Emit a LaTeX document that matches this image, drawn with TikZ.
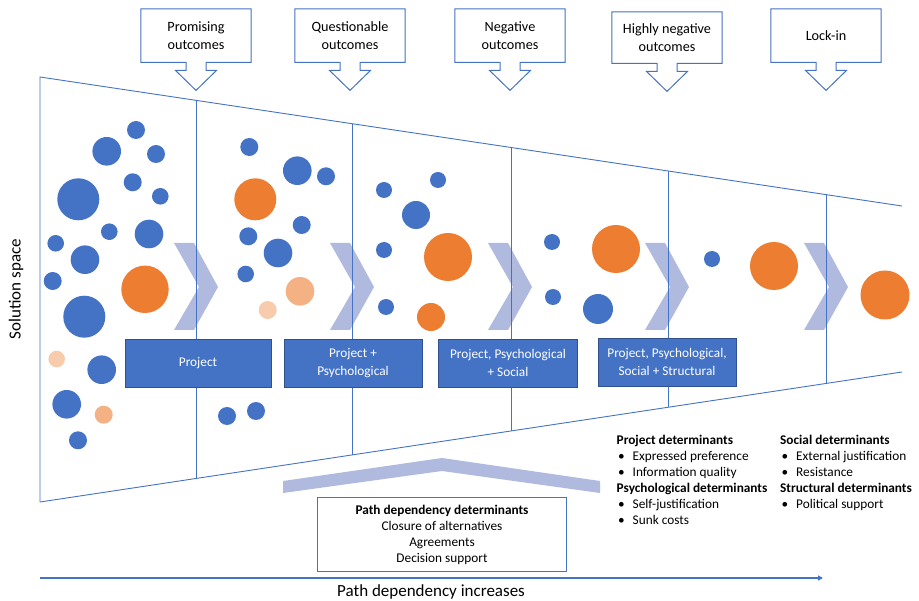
\documentclass[tikz,border=0pt]{standalone}
\usepackage{fontspec}
\setmainfont{Carlito}
\usetikzlibrary{calc,arrows.meta}
\definecolor{obl}{HTML}{4472C4}
\definecolor{obldark}{HTML}{2F528F}
\definecolor{oor}{HTML}{ED7D31}
\definecolor{opeach}{HTML}{F4B183}
\definecolor{opale}{HTML}{F8CBAD}
\definecolor{ochev}{HTML}{AFBADE}
\newcommand{\bitem}[1]{\makebox[16pt][l]{\hspace{1.5pt}\textbullet}#1}
\newcommand{\outcome}[1]{\draw[calline] (#1.south west) -- (#1.north west) -- (#1.north east) -- (#1.south east) -- ($(#1.south)+(10,0)$) -- ++(0,8) -- ++(10.5,0) -- ++(-20.5,20) -- ++(-20.5,-20) -- ++(10.5,0) -- ++(0,-8) -- cycle;}
\begin{document}
\begin{tikzpicture}[x=1pt,y=-1pt,
  funnel/.style={draw=obl, line width=0.9pt},
  calline/.style={draw=obl, line width=1pt},
  outbox/.style={minimum width=110pt, minimum height=53pt, align=center, inner sep=0pt, font=\fontsize{14.2}{17.7}\selectfont},
  detbox/.style={fill=obl, draw=obldark, line width=0.8pt, text=white, minimum height=48pt, align=center, inner sep=0pt, font=\fontsize{13.3}{17.5}\selectfont},
  notes/.style={anchor=north west, align=left, inner sep=0pt, font=\fontsize{13.3}{15.9}\selectfont},
  chev/.style={fill=ochev},
  bdot/.style={fill=obl}, odot/.style={fill=oor}, pdot/.style={fill=opeach}, ldot/.style={fill=opale}]
\useasboundingbox (0,0) rectangle (919,601);
% funnel
\coordinate (ftl) at (40,77);
\coordinate (ftr) at (902,206);
\coordinate (fbl) at (40,502);
\coordinate (fbr) at (902,372);
% chevrons and roof
\fill[chev] (174,243) -- ++(20,0) -- ++(24,44) -- ++(-24,43) -- ++(-20,0) -- ++(25,-43) -- cycle;
\fill[chev] (330,243) -- ++(20,0) -- ++(24,44) -- ++(-24,43) -- ++(-20,0) -- ++(25,-43) -- cycle;
\fill[chev] (488,243) -- ++(20,0) -- ++(24,44) -- ++(-24,43) -- ++(-20,0) -- ++(25,-43) -- cycle;
\fill[chev] (645,243) -- ++(20,0) -- ++(24,44) -- ++(-24,43) -- ++(-20,0) -- ++(25,-43) -- cycle;
\fill[chev] (804,243) -- ++(20,0) -- ++(24,44) -- ++(-24,43) -- ++(-20,0) -- ++(25,-43) -- cycle;
\fill[chev] (283,481) -- (442,458) -- (600,481) -- (600,493) -- (442,471) -- (283,493) -- cycle;
\draw[funnel] (fbl) -- (ftl) -- (ftr);
\draw[funnel] (fbl) -- (fbr);
\coordinate (t1) at (196,100.4); \coordinate (b1) at (196,478.5);
\coordinate (t2) at (352,123.7); \coordinate (b2) at (352,455);
\coordinate (t3) at (511,147.5); \coordinate (b3) at (511,431);
\coordinate (t4) at (668,171);   \coordinate (b4) at (668,407.3);
\coordinate (t5) at (826,194.7); \coordinate (b5) at (826,383.5);
\draw[funnel] (t1) -- (b1);
\draw[funnel] (t2) -- (b2);
\draw[funnel] (t3) -- (b3);
\draw[funnel] (t4) -- (b4);
\draw[funnel] (t5) -- (b5);
% outcomes
\node[outbox] (out1) at (196,35.7) {Promising\\outcomes};
\node[outbox] (out2) at (350,35.7) {Questionable\\outcomes};
\node[outbox] (out3) at (510,35.7) {Negative\\outcomes};
\node[outbox, minimum height=51pt] (out4) at (667,37.7) {Highly negative\\outcomes};
\node[outbox] (out5) at (826,35.7) {Lock-in};
\outcome{out1}
\outcome{out2}
\outcome{out3}
\outcome{out4}
\outcome{out5}
% determinant boxes
\node[detbox, minimum width=146pt] (det1) at (198,363) {Project};
\node[detbox, minimum width=138pt] (det2) at (353,363) {Project +\\Psychological};
\node[detbox, minimum width=139pt] (det3) at (508,363) {Project, Psychological\\+ Social};
\node[detbox, minimum width=138pt] (det4) at (667,362) {Project, Psychological,\\Social + Structural};
% solutions
\fill[bdot] (136,130) circle (9);
\fill[bdot] (106.7,151.3) circle (14.3);
\fill[bdot] (156,154) circle (9);
\fill[bdot] (78.3,199.3) circle (21);
\fill[bdot] (132.7,182.3) circle (9);
\fill[bdot] (160.3,196.3) circle (8.3);
\fill[bdot] (109.3,231.7) circle (8.3);
\fill[bdot] (149,234) circle (14.3);
\fill[bdot] (55.7,243.3) circle (8.3);
\fill[bdot] (85,259.7) circle (14.3);
\fill[bdot] (52.7,281) circle (9);
\fill[odot] (145,289.3) circle (23.7);
\fill[bdot] (84.3,316.7) circle (21);
\fill[ldot] (56.7,359) circle (8.3);
\fill[bdot] (101.7,369.7) circle (14.3);
\fill[bdot] (66.7,404.3) circle (14.3);
\fill[pdot] (103.7,414.7) circle (9);
\fill[bdot] (78,440.3) circle (9);
\fill[bdot] (249.3,147) circle (9);
\fill[bdot] (297.3,170.7) circle (14.3);
\fill[bdot] (326,176.3) circle (9);
\fill[odot] (255.3,199.3) circle (21);
\fill[bdot] (301.7,225) circle (9);
\fill[bdot] (248.3,236.3) circle (9);
\fill[bdot] (278,253) circle (14.3);
\fill[bdot] (245.7,274) circle (8.3);
\fill[pdot] (300,291.3) circle (14.3);
\fill[ldot] (267.7,310) circle (9);
\fill[bdot] (227,416) circle (9);
\fill[bdot] (256,411) circle (9);
\fill[bdot] (384,190) circle (8);
\fill[bdot] (438,180) circle (8);
\fill[bdot] (416,215) circle (14);
\fill[bdot] (384,250) circle (8);
\fill[odot] (448,257) circle (24);
\fill[bdot] (386,307) circle (8);
\fill[odot] (431,317) circle (14);
\fill[bdot] (552,242) circle (8);
\fill[odot] (616,249) circle (24);
\fill[bdot] (553,297) circle (8);
\fill[bdot] (598,309) circle (15);
\fill[bdot] (712,259) circle (8);
\fill[odot] (774,266) circle (24);
\fill[odot] (885,295) circle (24.5);
% determinants text
\node[notes] (leftnotes) at (616.5,435) {\textbf{Project determinants}\\\bitem{Expressed preference}\\\bitem{Information quality}\\\textbf{Psychological determinants}\\\bitem{Self-justification}\\\bitem{Sunk costs}};
\node[notes] (rightnotes) at (780,435) {\textbf{Social determinants}\\\bitem{External justification}\\\bitem{Resistance}\\\textbf{Structural determinants}\\\bitem{Political support}};
\node[draw=obl, line width=1pt, minimum width=249pt, minimum height=74pt, align=center, inner sep=0pt, font=\fontsize{13.3}{16}\selectfont] (pdbox) at (442,534.7) {\textbf{Path dependency determinants}\\Closure of alternatives\\Agreements\\Decision support};
% axes
\coordinate (axs) at (40,578);
\coordinate (axe) at (823,578);
\draw[draw=obl, line width=1.3pt, -{Triangle[length=5pt,width=5pt]}] (axs) -- (axe);
\node[font=\fontsize{17}{20}\selectfont] (xlabel) at (431,592) {Path dependency increases};
\node[font=\fontsize{17}{20}\selectfont, rotate=90] (ylabel) at (16,289) {Solution space};
\end{tikzpicture}
\end{document}
